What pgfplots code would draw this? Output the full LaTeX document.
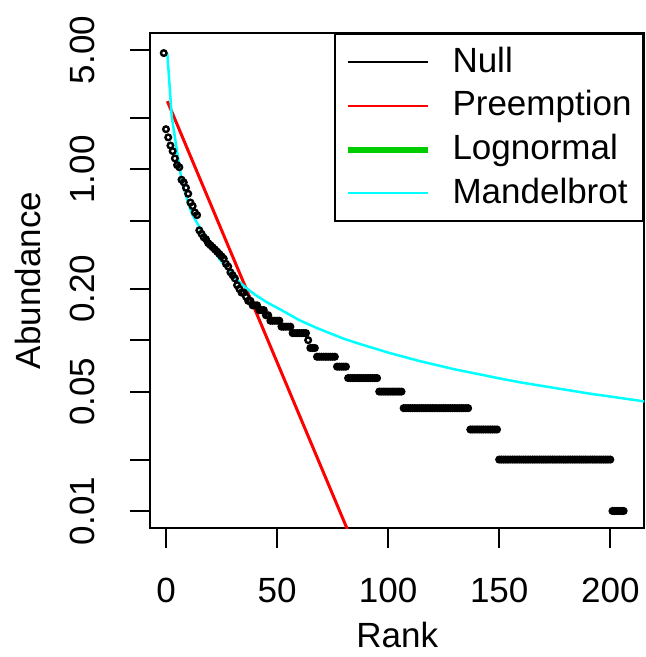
\documentclass[border=0pt]{standalone}
\usepackage{fontspec}
\setmainfont{Liberation Sans}
\usepackage{pgfplots}
\pgfplotsset{compat=1.18}
\definecolor{rgreen}{RGB}{0,205,0}
\definecolor{rcyan}{RGB}{0,255,255}
\definecolor{rred}{RGB}{255,0,0}
\begin{document}
\fontsize{35}{42}\selectfont
\begin{tikzpicture}
\useasboundingbox (-150pt,-129pt) rectangle (496pt,528pt);
\begin{axis}[
  at={(0pt,0pt)}, anchor=south west,
  scale only axis, width=494.5pt, height=495pt,
  xmin=-7.2, xmax=215.4,
  ymode=log, ymin=0.00795, ymax=6.29,
  axis line style={line width=2pt},
  tick style={line width=2pt, black},
  tick align=outside, major tick length=20pt,
  xtick pos=bottom, ytick pos=left,
  yminorticks=false, xminorticks=false,
  xtick={0,50,100,150,200}, xticklabels={0,50,100,150,200},
  ytick={0.01,0.02,0.05,0.1,0.2,0.5,1,2,5},
  yticklabels={0.01,,0.05,,0.20,,1.00,,5.00},
  /pgf/number format/assume math mode=true,
  tick label style={font=\fontsize{35}{42}\selectfont},
  xticklabel style={anchor=north, inner sep=0pt},
  xticklabel shift=30pt,
  yticklabel style={rotate=90, anchor=south, inner sep=0pt},
  yticklabel shift=35pt,
  xlabel={Rank}, ylabel={Abundance},
  label style={font=\fontsize{35}{42}\selectfont},
  xlabel style={at={(axis description cs:0.5,-0.2424)}, anchor=base, inner sep=0pt},
  ylabel style={at={(axis description cs:-0.2467,0.5)}, anchor=center, rotate=0, inner sep=0pt},
  legend style={at={(1,1)}, anchor=north east, draw=black, line width=2pt,
    font=\fontsize{35}{42}\selectfont, inner xsep=10pt, inner ysep=11pt,
    row sep=9pt, cells={anchor=west},
    /tikz/every even column/.append style={column sep=14pt}},
  legend image code/.code={\draw[#1] (0pt,0pt) -- (80pt,0pt); \path (100pt,0pt);},
  clip=true,
]
\addlegendimage{black, line width=2pt}
\addlegendentry{Null}
\addlegendimage{rred, line width=2.5pt}
\addlegendentry{Preemption}
\addlegendimage{rgreen, line width=6pt}
\addlegendentry{Lognormal}
\addlegendimage{rcyan, line width=2pt}
\addlegendentry{Mandelbrot}

% observed abundances
\addplot[forget plot, only marks, mark=o, mark size=2.8pt, mark options={line width=2.4pt, black}]
coordinates {
(-1,4.80) (0,1.72) (1,1.54) (2,1.38) (3,1.28) (4,1.16) (5,1.06) (6,1.03) (7,0.87) (8,0.84)
(9,0.78) (10,0.72) (11,0.64) (12,0.61) (13,0.56) (14,0.54) (15,0.44) (16,0.42) (17,0.40) (18,0.39)
(19,0.37) (20,0.36) (21,0.35) (22,0.34) (23,0.33) (24,0.32) (25,0.31) (26,0.30) (27,0.28) (28,0.27)
(29,0.25) (30,0.24) (31,0.23) (32,0.21) (33,0.20) (34,0.19) (35,0.19) (36,0.18) (37,0.17) (38,0.17)
(39,0.16) (40,0.16) (41,0.16) (42,0.15) (43,0.15) (44,0.15) (45,0.14) (46,0.14)
(47,0.13) (48,0.13) (49,0.13) (50,0.13) (51,0.13)
(52,0.12) (53,0.12) (54,0.12) (55,0.12) (56,0.12)
(57,0.11) (58,0.11) (59,0.11) (60,0.11) (61,0.11) (62,0.11) (63,0.11)
(64,0.10)
(65,0.09) (66,0.09) (67,0.09)
(68,0.08) (69,0.08) (70,0.08) (71,0.08) (72,0.08) (73,0.08) (74,0.08) (75,0.08) (76,0.08)
(77,0.07) (78,0.07) (79,0.07) (80,0.07) (81,0.07)
(82,0.06) (83,0.06) (84,0.06) (85,0.06) (86,0.06) (87,0.06) (88,0.06) (89,0.06) (90,0.06) (91,0.06)
(92,0.06) (93,0.06) (94,0.06) (95,0.06)
(96,0.05) (97,0.05) (98,0.05) (99,0.05) (100,0.05) (101,0.05) (102,0.05) (103,0.05) (104,0.05) (105,0.05) (106,0.05)
(107,0.04) (108,0.04) (109,0.04) (110,0.04) (111,0.04) (112,0.04) (113,0.04) (114,0.04) (115,0.04) (116,0.04)
(117,0.04) (118,0.04) (119,0.04) (120,0.04) (121,0.04) (122,0.04) (123,0.04) (124,0.04) (125,0.04) (126,0.04)
(127,0.04) (128,0.04) (129,0.04) (130,0.04) (131,0.04) (132,0.04) (133,0.04) (134,0.04) (135,0.04) (136,0.04)
(137,0.03) (138,0.03) (139,0.03) (140,0.03) (141,0.03) (142,0.03) (143,0.03) (144,0.03) (145,0.03) (146,0.03)
(147,0.03) (148,0.03) (149,0.03)
(150,0.02) (151,0.02) (152,0.02) (153,0.02) (154,0.02) (155,0.02) (156,0.02) (157,0.02) (158,0.02) (159,0.02)
(160,0.02) (161,0.02) (162,0.02) (163,0.02) (164,0.02) (165,0.02) (166,0.02) (167,0.02) (168,0.02) (169,0.02)
(170,0.02) (171,0.02) (172,0.02) (173,0.02) (174,0.02) (175,0.02) (176,0.02) (177,0.02) (178,0.02) (179,0.02)
(180,0.02) (181,0.02) (182,0.02) (183,0.02) (184,0.02) (185,0.02) (186,0.02) (187,0.02) (188,0.02) (189,0.02)
(190,0.02) (191,0.02) (192,0.02) (193,0.02) (194,0.02) (195,0.02) (196,0.02) (197,0.02) (198,0.02) (199,0.02)
(200,0.02)
(201,0.01) (202,0.01) (203,0.01) (204,0.01) (205,0.01) (206,0.01)
};

% Preemption fit
\addplot[forget plot, rred, line width=3pt] coordinates {(0.6,2.51) (84,0.0066)};

% Mandelbrot fit
\addplot[forget plot, rcyan, line width=2.5pt] coordinates {
(0.6,4.78) (2.6,2.03) (4.9,1.30) (7.1,0.85) (9.6,0.66) (11.6,0.553) (14.1,0.483) (16.8,0.423)
(20,0.357) (24,0.300) (28,0.258) (32,0.226) (36.3,0.201) (40,0.185) (45.3,0.167) (52.8,0.148) (60,0.131)
(67.8,0.118) (80,0.102) (87.3,0.095) (100,0.0846) (114.3,0.0754) (130,0.0675) (151.9,0.0591)
(160,0.0565) (190,0.0488) (216,0.0437)
};
\end{axis}
\end{tikzpicture}
\end{document}
